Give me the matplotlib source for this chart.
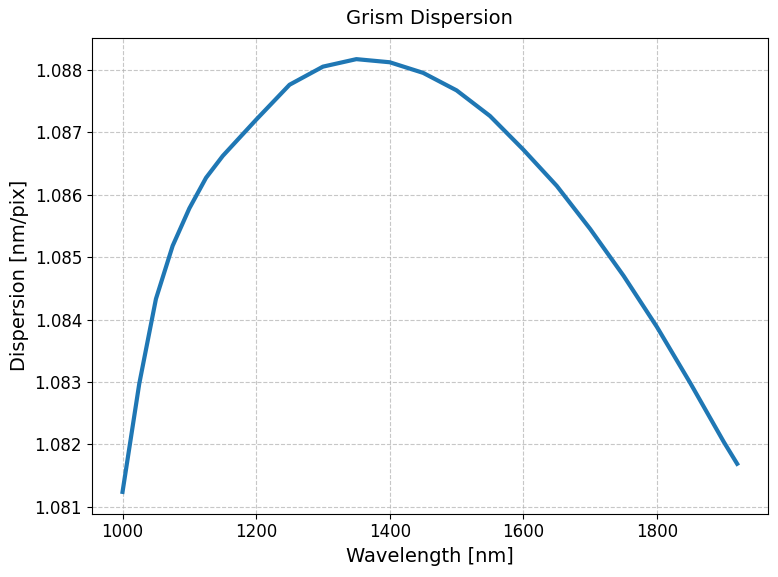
import matplotlib
matplotlib.use("Agg")
import matplotlib.pyplot as plt

wavelength = [1000, 1025, 1050, 1075, 1100, 1125, 1150, 1200, 1250, 1300, 1350, 1400,
              1450, 1500, 1550, 1600, 1650, 1700, 1750, 1800, 1850, 1900, 1920]
dispersion = [1.08124, 1.08297, 1.08433, 1.08518, 1.08578, 1.08627, 1.08662, 1.08720,
              1.08776, 1.08805, 1.08817, 1.08812, 1.08795, 1.08767, 1.08726, 1.08672,
              1.08614, 1.08545, 1.08470, 1.08388, 1.08298, 1.08204, 1.08169]

fig, ax = plt.subplots(figsize=(7.78, 5.77), dpi=100)
ax.plot(wavelength, dispersion, color="#1f77b4", linewidth=3)
ax.set_title("Grism Dispersion", fontsize=14, pad=10)
ax.set_xlabel("Wavelength [nm]", fontsize=14)
ax.set_ylabel("Dispersion [nm/pix]", fontsize=14)
ax.tick_params(labelsize=12)
ax.set_xticks([1000, 1200, 1400, 1600, 1800])
ax.set_yticks([1.081, 1.082, 1.083, 1.084, 1.085, 1.086, 1.087, 1.088])
ax.grid(True, linestyle="--", alpha=0.7)
fig.subplots_adjust(left=0.118, right=0.987, top=0.935, bottom=0.11)
fig.savefig("out.png", dpi=100)
